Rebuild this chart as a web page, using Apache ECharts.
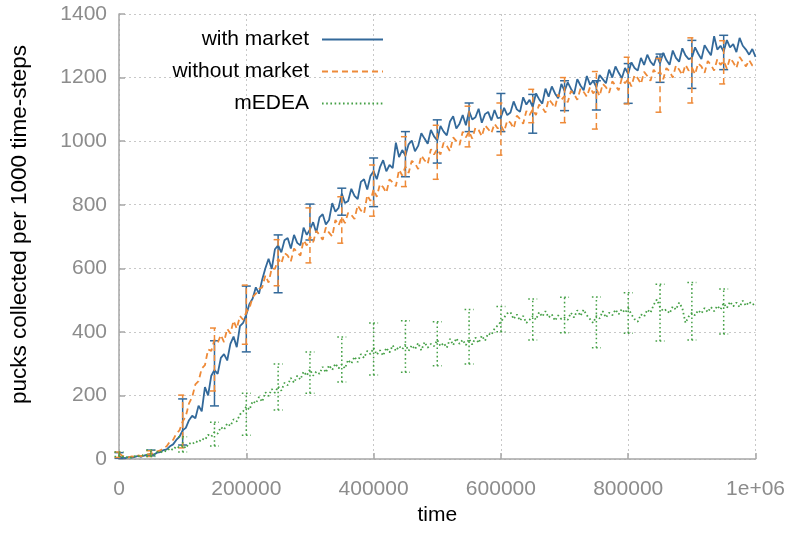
<!DOCTYPE html>
<html><head><meta charset="utf-8">
<script src="https://cdn.jsdelivr.net/npm/echarts@6/dist/echarts.min.js"></script>
<style>html,body{margin:0;padding:0;background:#fff}#c{width:788px;height:548px}</style>
</head><body><div id="c"></div>
<script>
// sampling interval of the plotted series (time-steps)
const STEP = 5000;

// pucks collected per 1000 time-steps, one value every STEP time-steps (0 .. 1e6)
const withMarket = [
  8, 4, 3, 6, 4, 7, 10, 7, 11, 13,
  15, 14, 20, 22, 28, 30, 40, 46, 60, 70,
  90, 98, 122, 136, 128, 168, 150, 226, 200, 262,
  280, 268, 318, 330, 310, 362, 385, 352, 418, 428,
  455, 488, 505, 540, 520, 565, 600, 630, 598, 660,
  672, 650, 688, 695, 662, 705, 680, 672, 728, 705,
  722, 745, 712, 760, 770, 738, 752, 805, 778, 790,
  835, 805, 812, 850, 828, 818, 872, 880, 848, 890,
  905, 880, 918, 940, 905, 925, 915, 995, 950, 972,
  955, 990, 1002, 968, 985, 1025, 1008, 992, 1035, 1015,
  1002, 1048, 1030, 1018, 1062, 1078, 1040, 1055, 1082, 1050,
  1095, 1068, 1075, 1102, 1058, 1085, 1092, 1065, 1098, 1072,
  1075, 1105, 1082, 1090, 1125, 1100, 1092, 1138, 1115, 1130,
  1108, 1150, 1132, 1118, 1165, 1140, 1172, 1150, 1135, 1180,
  1158, 1185, 1165, 1148, 1195, 1175, 1160, 1205, 1178, 1190,
  1170, 1208, 1195, 1182, 1225, 1200, 1235, 1215, 1198, 1230,
  1212, 1248, 1230, 1222, 1262, 1240, 1272, 1250, 1238, 1268,
  1245, 1278, 1255, 1240, 1285, 1262, 1250, 1292, 1270, 1258,
  1262, 1295, 1275, 1258, 1302, 1285, 1270, 1330, 1288, 1300,
  1282, 1318, 1295, 1305, 1280, 1325, 1300, 1288, 1272, 1290,
  1265
];
const withoutMarket = [
  18, 10, 7, 5, 8, 7, 11, 9, 13, 15,
  16, 19, 24, 27, 35, 40, 55, 60, 80, 90,
  118, 135, 175, 195, 235, 245, 285, 295, 345, 340,
  375, 365, 390, 368, 410, 395, 435, 410, 450, 438,
  462, 475, 510, 520, 535, 540, 578, 555, 600, 598,
  630, 615, 648, 640, 622, 662, 650, 640, 688, 672,
  700, 682, 718, 705, 690, 728, 712, 700, 752, 735,
  760, 742, 775, 768, 755, 798, 782, 772, 830, 812,
  848, 825, 865, 855, 838, 880, 870, 858, 910, 892,
  920, 900, 938, 930, 912, 955, 940, 928, 975, 958,
  975, 958, 995, 985, 968, 1012, 1000, 988, 1030, 1012,
  1030, 1008, 1042, 1035, 1015, 1050, 1038, 1025, 1055, 1040,
  1050, 1030, 1065, 1058, 1040, 1080, 1070, 1055, 1095, 1082,
  1100, 1082, 1115, 1105, 1090, 1132, 1120, 1105, 1148, 1130,
  1142, 1122, 1158, 1148, 1130, 1165, 1155, 1140, 1170, 1150,
  1165, 1142, 1180, 1170, 1152, 1188, 1175, 1160, 1198, 1182,
  1195, 1172, 1208, 1198, 1180, 1218, 1205, 1190, 1225, 1210,
  1218, 1195, 1230, 1220, 1200, 1238, 1225, 1208, 1240, 1222,
  1232, 1210, 1245, 1235, 1215, 1252, 1240, 1222, 1258, 1240,
  1252, 1228, 1262, 1248, 1230, 1265, 1250, 1235, 1255, 1238,
  1232
];
const mEDEA = [
  18, 8, 5, 6, 4, 9, 8, 13, 10, 15,
  17, 13, 22, 20, 26, 24, 34, 28, 40, 36,
  44, 34, 50, 46, 56, 52, 64, 60, 76, 70,
  85, 80, 100, 92, 112, 104, 125, 118, 140, 150,
  165, 155, 182, 175, 195, 180, 210, 198, 220, 208,
  228, 215, 240, 232, 255, 240, 262, 250, 275, 262,
  282, 262, 275, 268, 290, 272, 295, 280, 300, 285,
  298, 285, 312, 300, 322, 305, 330, 318, 340, 330,
  350, 328, 342, 325, 350, 335, 358, 340, 355, 345,
  360, 340, 358, 345, 365, 342, 368, 350, 362, 355,
  375, 355, 365, 350, 378, 358, 380, 362, 375, 358,
  378, 360, 382, 365, 388, 372, 395, 390, 410, 420,
  432, 445, 458, 462, 440, 455, 435, 450, 428, 438,
  450, 438, 462, 448, 465, 445, 455, 435, 452, 440,
  445, 438, 460, 445, 468, 450, 470, 452, 440, 428,
  450, 442, 465, 445, 460, 452, 470, 455, 472, 460,
  475, 455, 440, 432, 455, 448, 470, 460, 485, 502,
  478, 465, 470, 458, 480, 470, 492, 475, 428, 448,
  460, 452, 468, 458, 475, 462, 478, 465, 482, 470,
  490, 475, 495, 480, 492, 478, 498, 482, 495, 485,
  490
];

// error bars: [time, low, high]
const withMarketErr = [
  [0, 2, 20], [50000, 10, 28], [100000, 44, 189], [150000, 167, 372], [200000, 337, 544],
  [250000, 523, 705], [300000, 689, 802], [350000, 767, 852], [400000, 794, 947],
  [450000, 888, 1030], [500000, 931, 1067], [550000, 1030, 1120], [600000, 1030, 1150],
  [650000, 1025, 1147], [700000, 1096, 1190], [750000, 1098, 1190], [800000, 1119, 1244],
  [850000, 1185, 1274], [900000, 1166, 1317], [950000, 1225, 1333]
];
const withoutMarketErr = [
  [0, 5, 22], [50000, 8, 26], [100000, 35, 201], [150000, 214, 412], [200000, 361, 547],
  [250000, 545, 690], [300000, 617, 790], [350000, 679, 825], [400000, 764, 925],
  [450000, 857, 1014], [500000, 880, 1050], [550000, 982, 1110], [600000, 956, 1120],
  [650000, 1058, 1163], [700000, 1058, 1200], [750000, 1038, 1219], [800000, 1117, 1264],
  [850000, 1091, 1260], [900000, 1120, 1325], [950000, 1180, 1316]
];
const mEDEAErr = [
  [0, 8, 22], [50000, 8, 28], [100000, 22, 70], [150000, 41, 116], [200000, 75, 207],
  [250000, 154, 299], [300000, 207, 337], [350000, 242, 384], [400000, 264, 428],
  [450000, 273, 435], [500000, 293, 432], [550000, 299, 470], [600000, 400, 480],
  [650000, 374, 503], [700000, 397, 509], [750000, 350, 510], [800000, 396, 523],
  [850000, 371, 550], [900000, 374, 555], [950000, 393, 535]
];

const xTickLabels = ['0', '200000', '400000', '600000', '800000', '1e+06'];
const seriesNames = ['with market', 'without market', 'mEDEA'];

const COLORS = ['#33699a', '#ee8a38', '#45a046'];
const DASHES = ['solid', [6, 4], [1.6, 2.6]];
const FONT = 'Liberation Sans, Arial, Helvetica, sans-serif';

function pairs(arr) { return arr.map((v, i) => [i * STEP, v]); }

function errItem(color, dash) {
  return function (params, api) {
    const x = api.value(0), lo = api.value(1), hi = api.value(2);
    const pLo = api.coord([x, lo]), pHi = api.coord([x, hi]);
    const cap = 4.5;
    const style = { stroke: color, lineWidth: 1.5, lineDash: dash === 'solid' ? null : dash, fill: null };
    return {
      type: 'group', children: [
        { type: 'line', shape: { x1: pLo[0], y1: pLo[1], x2: pHi[0], y2: pHi[1] }, style: style },
        { type: 'line', shape: { x1: pLo[0] - cap, y1: pLo[1], x2: pLo[0] + cap, y2: pLo[1] }, style: style },
        { type: 'line', shape: { x1: pHi[0] - cap, y1: pHi[1], x2: pHi[0] + cap, y2: pHi[1] }, style: style }
      ]
    };
  };
}

const lineData = [withMarket, withoutMarket, mEDEA];
const errData = [withMarketErr, withoutMarketErr, mEDEAErr];
const WIDTHS = [1.8, 1.8, 1.8];

const series = [];
for (let k = 0; k < 3; k++) {
  series.push({
    name: seriesNames[k], type: 'line', data: pairs(lineData[k]),
    symbol: 'none', showSymbol: false, animation: false,
    lineStyle: { color: COLORS[k], width: WIDTHS[k], type: DASHES[k] },
    itemStyle: { color: COLORS[k] }, z: 3 + k
  });
  series.push({
    name: seriesNames[k] + ' err', type: 'custom', data: errData[k],
    renderItem: errItem(COLORS[k], DASHES[k]), encode: { x: 0, y: [1, 2] },
    animation: false, z: 3 + k, silent: true
  });
}

const legendTops = [29, 61, 93];
const legends = seriesNames.map((n, i) => ({
  data: [n], right: 404, top: legendTops[i], padding: 0, orient: 'horizontal',
  align: 'right', itemWidth: 61, itemHeight: 14, selectedMode: false,
  itemStyle: { color: 'rgba(0,0,0,0)', borderWidth: 0, opacity: 0 },
  textStyle: { fontSize: 21, color: '#000', fontFamily: FONT, padding: [0, 8, 0, 0] }
}));

const chart = echarts.init(document.getElementById('c'), null, { renderer: 'canvas' });
chart.setOption({
  animation: false,
  backgroundColor: '#fff',
  grid: { left: 118, right: 32, top: 14, bottom: 89, containLabel: false },
  legend: legends,
  xAxis: {
    type: 'value', min: 0, max: 1000000, interval: 200000,
    name: 'time', nameLocation: 'middle', nameGap: 43,
    nameTextStyle: { fontSize: 21, color: '#000', fontFamily: FONT },
    axisLine: { show: true, onZero: false, lineStyle: { color: '#a6a6a6', width: 1.5 } },
    axisTick: { show: true, inside: true, length: 6, lineStyle: { color: '#a6a6a6', width: 1.5 } },
    axisLabel: { fontSize: 21, color: '#8c8c8c', fontFamily: FONT, margin: 20,
      formatter: v => xTickLabels[Math.round(v / 200000)] },
    splitLine: { show: true, lineStyle: { color: '#c8c8c8', width: 1, type: [2, 3] } }
  },
  yAxis: {
    type: 'value', min: 0, max: 1400, interval: 200,
    name: 'pucks collected per 1000 time-steps', nameLocation: 'middle', nameGap: 88,
    nameTextStyle: { fontSize: 22.5, color: '#000', fontFamily: FONT, padding: [0, 0, 0, 24] },
    axisLine: { show: true, onZero: false, lineStyle: { color: '#a6a6a6', width: 1.5 } },
    axisTick: { show: true, inside: true, length: 6, lineStyle: { color: '#a6a6a6', width: 1.5 } },
    axisLabel: { fontSize: 21, color: '#8c8c8c', fontFamily: FONT, margin: 12,
      formatter: v => String(v) },
    splitLine: { show: true, lineStyle: { color: '#c8c8c8', width: 1, type: [2, 3] } }
  },
  series: series
});
</script>
</body></html>
